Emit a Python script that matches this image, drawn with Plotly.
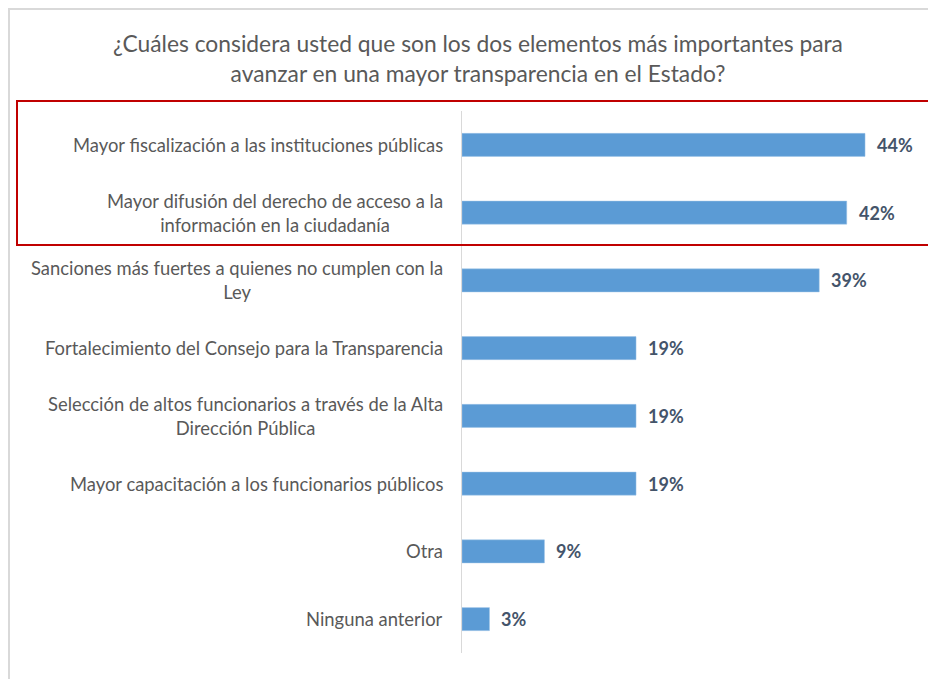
import plotly.graph_objects as go

categories = [
    "Mayor fiscalización a las instituciones públicas",
    "Mayor difusión del derecho de acceso a la<br>información en la ciudadanía",
    "Sanciones más fuertes a quienes no cumplen con la<br>Ley",
    "Fortalecimiento del Consejo para la Transparencia",
    "Selección de altos funcionarios a través de la Alta<br>Dirección Pública",
    "Mayor capacitación a los funcionarios públicos",
    "Otra",
    "Ninguna anterior",
]
values = [44, 42, 39, 19, 19, 19, 9, 3]
value_labels = ["44%", "42%", "39%", "19%", "19%", "19%", "9%", "3%"]

W, H = 936, 679
OFF = 8  # page body margin offset
ML, MR, MT, MB = 462 - OFF, 30, 111 - OFF, 26 + OFF
PW, PH = W - ML - MR, H - MT - MB
FONT = "Lato"

def px_x(px):
    return (px - OFF - ML) / PW

def px_y(py):
    return 1 - (py - OFF - MT) / PH

fig = go.Figure()
fig.add_trace(go.Bar(
    x=values, y=categories, orientation="h",
    marker=dict(color="#5B9BD5", line=dict(color="#9DC3E6", width=0.5)),
    width=0.34, hoverinfo="skip",
))

annotations = []
for c in categories:
    annotations.append(dict(
        x=0, xref="paper", y=c, yref="y", text=c, showarrow=False,
        xanchor="right", yanchor="middle", align="center", xshift=-17,
        font=dict(family=FONT, size=18.4, color="#595959"),
    ))
for c, v, t in zip(categories, values, value_labels):
    annotations.append(dict(
        x=v, xref="x", y=c, yref="y", text="<b>" + t + "</b>", showarrow=False,
        xanchor="left", yanchor="middle", xshift=10,
        font=dict(family=FONT, size=18, color="#44546A"),
    ))

shapes = [
    dict(type="rect", xref="paper", yref="paper",
         x0=px_x(9), x1=px_x(960), y0=px_y(9), y1=px_y(700),
         line=dict(color="#D9D9D9", width=2), layer="below"),
    dict(type="rect", xref="paper", yref="paper",
         x0=px_x(17), x1=px_x(932), y0=px_y(101), y1=px_y(245),
         line=dict(color="#C00000", width=2)),
]

fig.update_layout(
    width=W, height=H,
    margin=dict(l=ML, r=MR, t=MT, b=MB),
    paper_bgcolor="white", plot_bgcolor="white",
    showlegend=False,
    title=dict(
        text="¿Cuáles considera usted que son los dos elementos más importantes para<br>avanzar en una mayor transparencia en el Estado?",
        x=(478 - OFF) / W, xref="container", xanchor="center",
        y=1 - (52 - OFF) / H, yref="container", yanchor="top",
        font=dict(family=FONT, size=22.8, color="#595959"),
    ),
    xaxis=dict(range=[0, PW / 9.16], visible=False, fixedrange=True),
    yaxis=dict(
        autorange="reversed", showticklabels=False, ticks="",
        showline=True, linecolor="#D9D9D9", linewidth=1,
        showgrid=False, zeroline=False, fixedrange=True,
    ),
    annotations=annotations,
    shapes=shapes,
)

fig.write_html("out.html")
